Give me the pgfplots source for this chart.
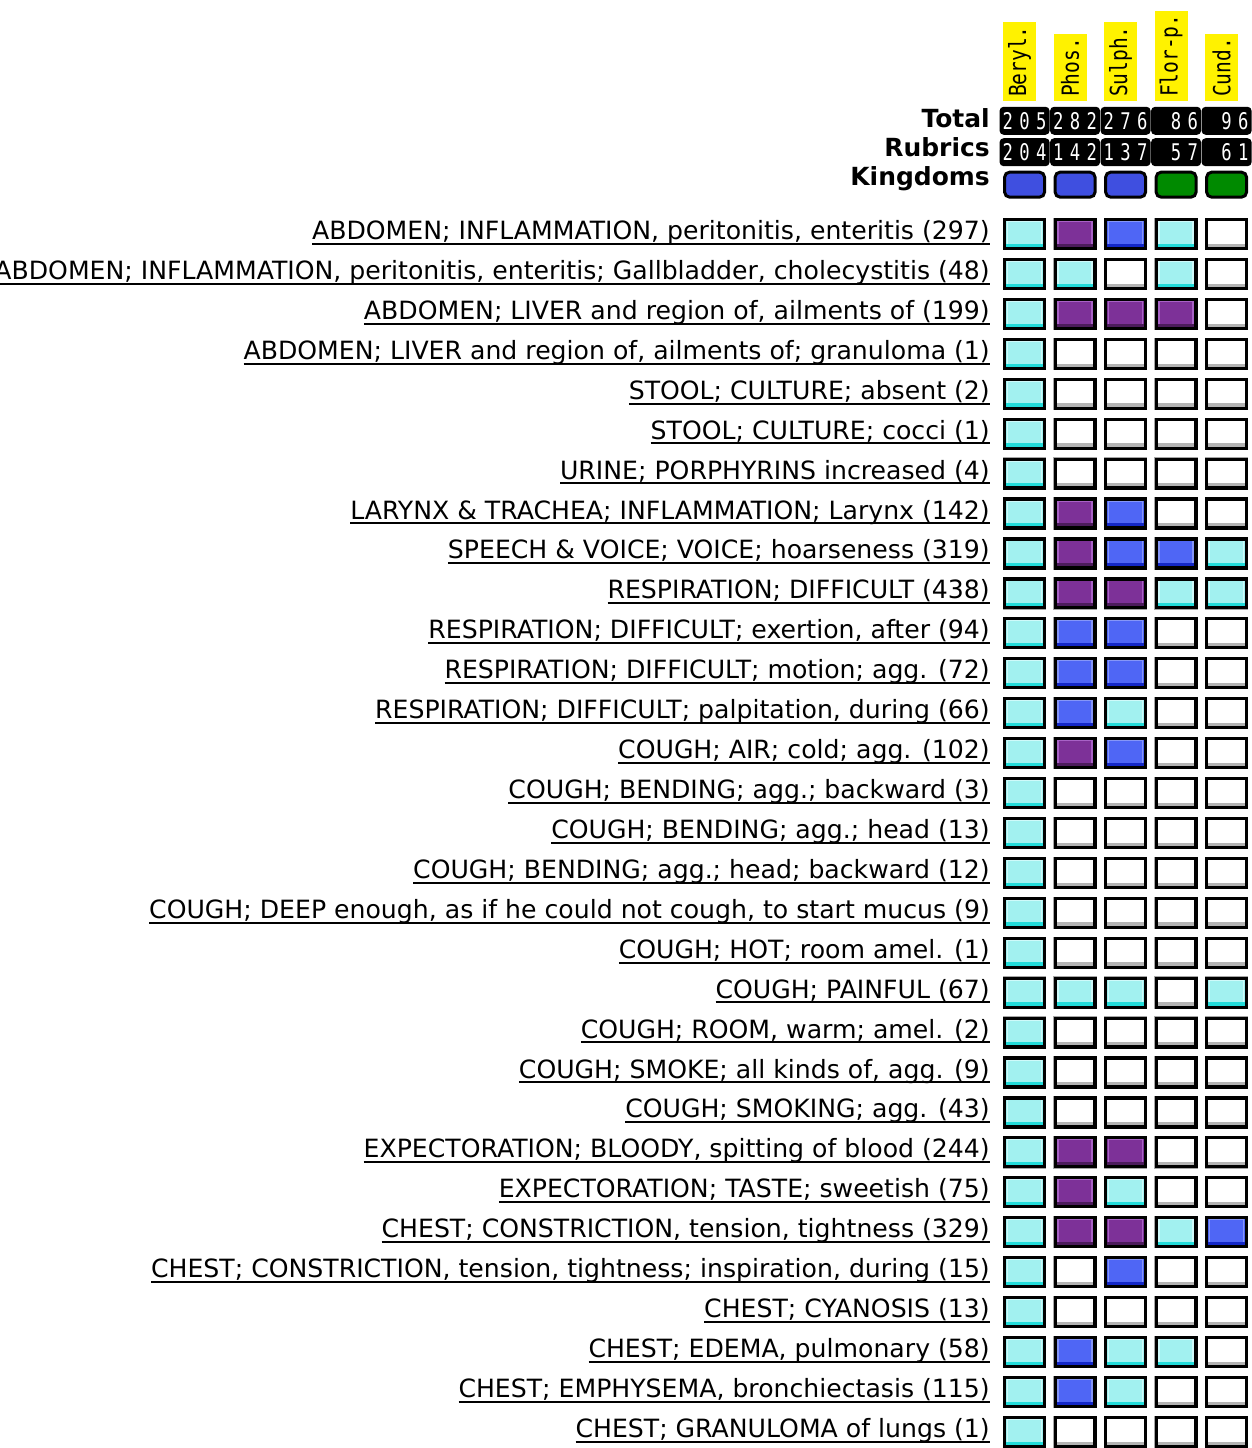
\documentclass[border=0pt]{standalone}
\usepackage{fontspec}
\usepackage{graphicx}
\usepackage{pgfplots}
\pgfplotsset{compat=1.18}
\setmainfont{DejaVu Sans}
\newfontfamily\monofont{DejaVu Sans Mono}

\definecolor{cC}{HTML}{A2F1F0}
\definecolor{cCl}{HTML}{CFFAFA}
\definecolor{cCd}{HTML}{22DCDA}
\definecolor{cP}{HTML}{7D3198}
\definecolor{cPl}{HTML}{A862C6}
\definecolor{cPd}{HTML}{4C1C5C}
\definecolor{cB}{HTML}{4F66F5}
\definecolor{cBl}{HTML}{8696F8}
\definecolor{cBd}{HTML}{1428C8}
\definecolor{cWd}{HTML}{B4B4B4}
\definecolor{kB}{HTML}{3F4FE0}
\definecolor{kG}{HTML}{008A00}

\newcommand\cellmark[4]{%
 \pgfdeclareplotmark{#1}{%
  \pgfsetfillcolor{#2}\pgfpathrectangle{\pgfpoint{-10pt}{-7.25pt}}{\pgfpoint{20pt}{14.5pt}}\pgfusepath{fill}%
  \pgfsetlinewidth{0.8pt}\pgfsetstrokecolor{#3}\pgfpathrectangle{\pgfpoint{-8.5pt}{-5.6pt}}{\pgfpoint{17pt}{12pt}}\pgfusepath{stroke}%
  \pgfsetfillcolor{#4}\pgfpathrectangle{\pgfpoint{-10pt}{-7.25pt}}{\pgfpoint{20pt}{2.4pt}}\pgfusepath{fill}%
  \pgfsetlinewidth{0.5pt}\pgfsetstrokecolor{gray!70}\pgfpathrectangle{\pgfpoint{-10.6pt}{-7.85pt}}{\pgfpoint{21.2pt}{15.7pt}}\pgfusepath{stroke}%
  \pgfsetlinewidth{1.6pt}\pgfsetstrokecolor{black}\pgfpathrectangle{\pgfpoint{-10pt}{-7.25pt}}{\pgfpoint{20pt}{14.5pt}}\pgfusepath{stroke}%
 }}
\cellmark{cellC}{cC}{cCl}{cCd}
\cellmark{cellP}{cP}{cPl}{cPd}
\cellmark{cellB}{cB}{cBl}{cBd}
\cellmark{cellW}{white}{white}{cWd}

\newcommand\kingmark[2]{%
 \pgfdeclareplotmark{#1}{%
  \pgfsetcornersarced{\pgfpoint{2.5pt}{2.5pt}}%
  \pgfsetfillcolor{#2}\pgfsetstrokecolor{black}\pgfsetlinewidth{1.5pt}%
  \pgfpathrectangle{\pgfpoint{-10pt}{-6.25pt}}{\pgfpoint{20pt}{12.5pt}}\pgfusepath{fill,stroke}%
 }}
\kingmark{kingB}{kB}
\kingmark{kingG}{kG}

\newsavebox\ulbox
\newcommand\ul[1]{\sbox\ulbox{#1}\rlap{\rule[-2.65pt]{\wd\ulbox}{1pt}}\usebox\ulbox}
\newcommand\dslot[1]{\makebox[8.35pt]{\scalebox{0.75}[1]{#1}}}
\newcommand\nb[3]{\dslot{#1}\dslot{#2}\dslot{#3}}
\newcommand\hd[1]{{\bfseries\fontsize{12.5}{14}\selectfont #1}}
\newcommand\yl[1]{\scalebox{0.83}[1]{#1}}

\pgfplotstableread{
x y c
0 1 C
1 1 P
2 1 B
3 1 C
4 1 W
0 2 C
1 2 C
2 2 W
3 2 C
4 2 W
0 3 C
1 3 P
2 3 P
3 3 P
4 3 W
0 4 C
1 4 W
2 4 W
3 4 W
4 4 W
0 5 C
1 5 W
2 5 W
3 5 W
4 5 W
0 6 C
1 6 W
2 6 W
3 6 W
4 6 W
0 7 C
1 7 W
2 7 W
3 7 W
4 7 W
0 8 C
1 8 P
2 8 B
3 8 W
4 8 W
0 9 C
1 9 P
2 9 B
3 9 B
4 9 C
0 10 C
1 10 P
2 10 P
3 10 C
4 10 C
0 11 C
1 11 B
2 11 B
3 11 W
4 11 W
0 12 C
1 12 B
2 12 B
3 12 W
4 12 W
0 13 C
1 13 B
2 13 C
3 13 W
4 13 W
0 14 C
1 14 P
2 14 B
3 14 W
4 14 W
0 15 C
1 15 W
2 15 W
3 15 W
4 15 W
0 16 C
1 16 W
2 16 W
3 16 W
4 16 W
0 17 C
1 17 W
2 17 W
3 17 W
4 17 W
0 18 C
1 18 W
2 18 W
3 18 W
4 18 W
0 19 C
1 19 W
2 19 W
3 19 W
4 19 W
0 20 C
1 20 C
2 20 C
3 20 W
4 20 C
0 21 C
1 21 W
2 21 W
3 21 W
4 21 W
0 22 C
1 22 W
2 22 W
3 22 W
4 22 W
0 23 C
1 23 W
2 23 W
3 23 W
4 23 W
0 24 C
1 24 P
2 24 P
3 24 W
4 24 W
0 25 C
1 25 P
2 25 C
3 25 W
4 25 W
0 26 C
1 26 P
2 26 P
3 26 C
4 26 B
0 27 C
1 27 W
2 27 B
3 27 W
4 27 W
0 28 C
1 28 W
2 28 W
3 28 W
4 28 W
0 29 C
1 29 B
2 29 C
3 29 C
4 29 W
0 30 C
1 30 B
2 30 C
3 30 W
4 30 W
0 31 C
1 31 W
2 31 W
3 31 W
4 31 W
}\cells

\pgfplotstableread{
x y k
0 -0.2375 B
1 -0.2375 B
2 -0.2375 B
3 -0.2375 G
4 -0.2375 G
}\kingdoms

\begin{document}
\begin{tikzpicture}[trim left=-498pt, trim right=129pt]
\path (-498pt,0pt) rectangle (129pt,724pt);
\begin{axis}[
  at={(0pt,0pt)}, anchor=south west,
  scale only axis, width=129pt, height=724pt,
  xmin=-0.6028, xmax=4.496,
  ymin=-4.8625, ymax=31.3375, y dir=reverse,
  axis line style={draw=none}, clip=false,
  xtick=\empty,
  major tick length=0pt, ytick style={draw=none},
  ytick={-1.8,-1.075,-0.35,1,2,...,31},
  yticklabel style={anchor=base east, inner sep=0pt, xshift=-2pt, yshift=-2.75pt, font=\fontsize{12.6}{14}\selectfont},
  yticklabels={
    {\hd{Total}},{\hd{Rubrics}},{\hd{Kingdoms}},
    {\ul{ABDOMEN; INFLAMMATION, peritonitis, enteritis (297)}},
    {\ul{ABDOMEN; INFLAMMATION, peritonitis, enteritis; Gallbladder, cholecystitis (48)}},
    {\ul{ABDOMEN; LIVER and region of, ailments of (199)}},
    {\ul{ABDOMEN; LIVER and region of, ailments of; granuloma (1)}},
    {\ul{STOOL; CULTURE; absent (2)}},
    {\ul{STOOL; CULTURE; cocci (1)}},
    {\ul{URINE; PORPHYRINS increased (4)}},
    {\ul{LARYNX \& TRACHEA; INFLAMMATION; Larynx (142)}},
    {\ul{SPEECH \& VOICE; VOICE; hoarseness (319)}},
    {\ul{RESPIRATION; DIFFICULT (438)}},
    {\ul{RESPIRATION; DIFFICULT; exertion, after (94)}},
    {\ul{RESPIRATION; DIFFICULT; motion; agg. (72)}},
    {\ul{RESPIRATION; DIFFICULT; palpitation, during (66)}},
    {\ul{COUGH; AIR; cold; agg. (102)}},
    {\ul{COUGH; BENDING; agg.; backward (3)}},
    {\ul{COUGH; BENDING; agg.; head (13)}},
    {\ul{COUGH; BENDING; agg.; head; backward (12)}},
    {\ul{COUGH; DEEP enough, as if he could not cough, to start mucus (9)}},
    {\ul{COUGH; HOT; room amel. (1)}},
    {\ul{COUGH; PAINFUL (67)}},
    {\ul{COUGH; ROOM, warm; amel. (2)}},
    {\ul{COUGH; SMOKE; all kinds of, agg. (9)}},
    {\ul{COUGH; SMOKING; agg. (43)}},
    {\ul{EXPECTORATION; BLOODY, spitting of blood (244)}},
    {\ul{EXPECTORATION; TASTE; sweetish (75)}},
    {\ul{CHEST; CONSTRICTION, tension, tightness (329)}},
    {\ul{CHEST; CONSTRICTION, tension, tightness; inspiration, during (15)}},
    {\ul{CHEST; CYANOSIS (13)}},
    {\ul{CHEST; EDEMA, pulmonary (58)}},
    {\ul{CHEST; EMPHYSEMA, bronchiectasis (115)}},
    {\ul{CHEST; GRANULOMA of lungs (1)}}
  },
]
\addplot[scatter, only marks, scatter src=explicit symbolic,
  scatter/classes={C={mark=cellC},P={mark=cellP},B={mark=cellB},W={mark=cellW}}]
  table[x=x, y=y, meta=c] {\cells};
\addplot[scatter, only marks, scatter src=explicit symbolic,
  scatter/classes={B={mark=kingB},G={mark=kingG}}]
  table[x=x, y=y, meta=k] {\kingdoms};

\tikzset{ylab/.style={rotate=90, anchor=west, fill=yellow, inner xsep=2pt, inner ysep=0pt, minimum height=16.5pt, font=\monofont\fontsize{11.8}{12}\selectfont}}
\node[ylab] at (axis cs:-0.099,-2.325) {\yl{Beryl.}};
\node[ylab] at (axis cs:0.901,-2.325) {\yl{Phos.}};
\node[ylab] at (axis cs:1.901,-2.325) {\yl{Sulph.}};
\node[ylab] at (axis cs:2.901,-2.325) {\yl{Flor-p.}};
\node[ylab] at (axis cs:3.901,-2.325) {\yl{Cund.}};

\tikzset{nbox/.style={fill=black, text=white, rounded corners=2pt, minimum width=21.5pt, minimum height=14pt, inner sep=0pt, font=\monofont\fontsize{11.5}{12}\selectfont}}
\node[nbox] at (axis cs:0,-1.8375) {\nb{2}{0}{5}};
\node[nbox] at (axis cs:1,-1.8375) {\nb{2}{8}{2}};
\node[nbox] at (axis cs:2,-1.8375) {\nb{2}{7}{6}};
\node[nbox] at (axis cs:3,-1.8375) {\nb{}{8}{6}};
\node[nbox] at (axis cs:4,-1.8375) {\nb{}{9}{6}};
\node[nbox] at (axis cs:0,-1.05) {\nb{2}{0}{4}};
\node[nbox] at (axis cs:1,-1.05) {\nb{1}{4}{2}};
\node[nbox] at (axis cs:2,-1.05) {\nb{1}{3}{7}};
\node[nbox] at (axis cs:3,-1.05) {\nb{}{5}{7}};
\node[nbox] at (axis cs:4,-1.05) {\nb{}{6}{1}};
\end{axis}
\end{tikzpicture}
\end{document}
